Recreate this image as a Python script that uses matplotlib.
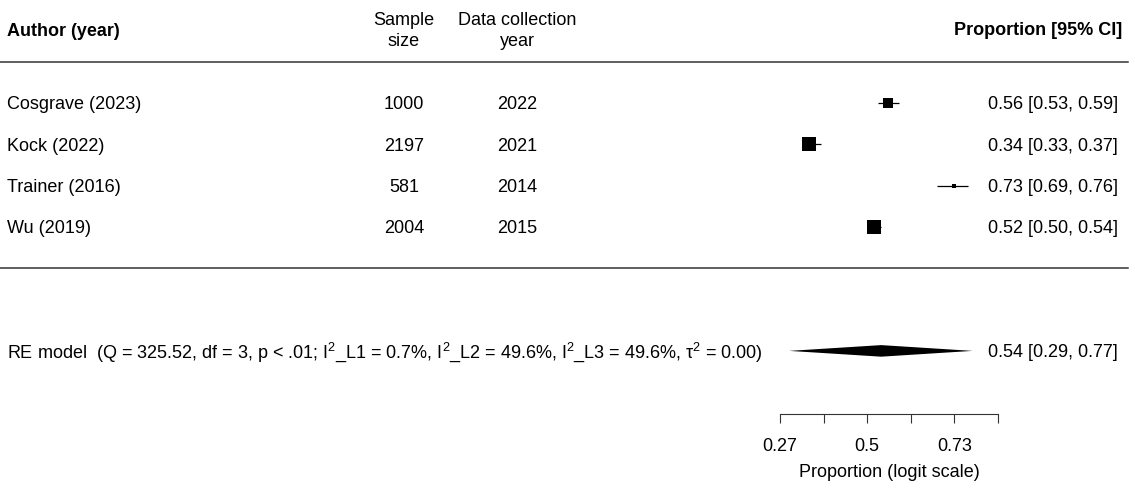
import numpy as np
import matplotlib as mpl
import matplotlib.pyplot as plt
from matplotlib.ticker import NullLocator, NullFormatter

# study level data (proportions, 95% CI)
authors = ["Cosgrave (2023)", "Kock (2022)", "Trainer (2016)", "Wu (2019)"]
sample_size = [1000, 2197, 581, 2004]
collection_year = [2022, 2021, 2014, 2015]
prop = [0.56, 0.34, 0.73, 0.52]
ci_lo = [0.53, 0.33, 0.69, 0.50]
ci_hi = [0.59, 0.37, 0.76, 0.54]
weights = [0.77, 1.00, 0.30, 0.98]  # relative model weights (square size)

# pooled random effects estimate
re_est = 0.54
re_lo = 0.29
re_hi = 0.77
re_text = ("RE model  (Q = 325.52, df = 3, p < .01; I$^{2}$_L1 = 0.7%, "
           "I$^{2}$_L2 = 49.6%, I$^{2}$_L3 = 49.6%, \u03c4$^{2}$ = 0.00)")

# axis ticks on logit scale
tick_logit = [-1, -0.5, 0, 0.5, 1, 1.5]
tick_labels = ["0.27", "", "0.5", "", "0.73", ""]

#_____________________________________________________________________________________
def expit(x):
    return 1.0 / (1.0 + np.exp(-np.asarray(x, dtype=float)))

#_____________________________________________________________________________________
plt.rcParams['font.family'] = ['Liberation Sans', 'DejaVu Sans']
plt.rcParams['mathtext.fontset'] = 'custom'
plt.rcParams['mathtext.rm'] = 'Liberation Sans'
plt.rcParams['mathtext.it'] = 'Liberation Sans:italic'
plt.rcParams['mathtext.bf'] = 'Liberation Sans:bold'
fs = 13

W, H = 1135, 491
px_row = 41.33          # pixels per row
y_top = 6.49            # row value at top edge of figure
y_bot = y_top - H / px_row

fig = plt.figure(figsize=(W / 100, H / 100), dpi=100)

# text / table layer (x in pixels, y in rows)
ax_t = fig.add_axes([0, 0, 1, 1])
ax_t.set_xlim(0, W)
ax_t.set_ylim(y_bot, y_top)
ax_t.axis('off')

k = len(authors)
rows = np.arange(k, 0, -1)
va = 'center_baseline'

ax_t.text(7, 5.78, "Author (year)", fontsize=fs, fontweight='bold', ha='left', va=va)
ax_t.text(404, 5.75, "Sample\nsize", fontsize=fs, ha='center', va='center', linespacing=1.3)
ax_t.text(517, 5.75, "Data collection\nyear", fontsize=fs, ha='center', va='center', linespacing=1.3)
ax_t.text(1122, 5.8, "Proportion [95% CI]", fontsize=fs, fontweight='bold', ha='right', va=va)

ax_t.axhline(5, xmin=0, xmax=1128 / W, color='#333333', lw=1.1)
ax_t.axhline(0, xmin=0, xmax=1128 / W, color='#333333', lw=1.1)

for i in range(k):
    r = rows[i]
    ax_t.text(7, r, authors[i], fontsize=fs, ha='left', va=va)
    ax_t.text(404, r, str(sample_size[i]), fontsize=fs, ha='center', va=va)
    ax_t.text(517, r, str(collection_year[i]), fontsize=fs, ha='center', va=va)
    ax_t.text(1118, r, "{0:.2f} [{1:.2f}, {2:.2f}]".format(prop[i], ci_lo[i], ci_hi[i]),
              fontsize=fs, ha='right', va=va)

ax_t.text(7, -1.97, re_text, fontsize=fs, ha='left', va=va)
ax_t.text(1118, -2, "{0:.2f} [{1:.2f}, {2:.2f}]".format(re_est, re_lo, re_hi),
          fontsize=fs, ha='right', va=va)

# forest layer on logit scale
x0, x1 = 780, 998
y_axis = 414
ax = fig.add_axes([x0 / W, (H - y_axis) / H, (x1 - x0) / W, y_axis / H])
ax.patch.set_alpha(0)
ax.set_xscale('logit')
ax.set_xlim(expit(tick_logit[0]), expit(tick_logit[-1]))
ax.set_ylim(y_top - y_axis / px_row, y_top)

for i in range(k):
    ax.errorbar(prop[i], rows[i],
                xerr=[[prop[i] - ci_lo[i]], [ci_hi[i] - prop[i]]],
                fmt='s', color='black', ms=9.8 * weights[i], mew=0,
                ecolor='black', elinewidth=0.9, capsize=3.6, capthick=1.0, clip_on=False)

# summary diamond
ax.fill([re_lo, re_est, re_hi, re_est], [-2, -2 + 0.14, -2, -2 - 0.14],
        color='black', lw=0, clip_on=False)

ax.set_xticks(expit(tick_logit))
ax.set_xticklabels(tick_labels, fontsize=fs)
ax.xaxis.set_minor_locator(NullLocator())
ax.xaxis.set_minor_formatter(NullFormatter())
ax.set_yticks([])
for s in ['top', 'left', 'right']:
    ax.spines[s].set_visible(False)
ax.spines['bottom'].set_linewidth(0.8)
ax.spines['bottom'].set_color('#333333')
ax.tick_params(axis='x', direction='out', length=6.5, width=0.8, color='#333333', pad=11)
ax.set_xlabel("Proportion (logit scale)", fontsize=fs, labelpad=6)

plt.savefig("out.png", dpi=100)
